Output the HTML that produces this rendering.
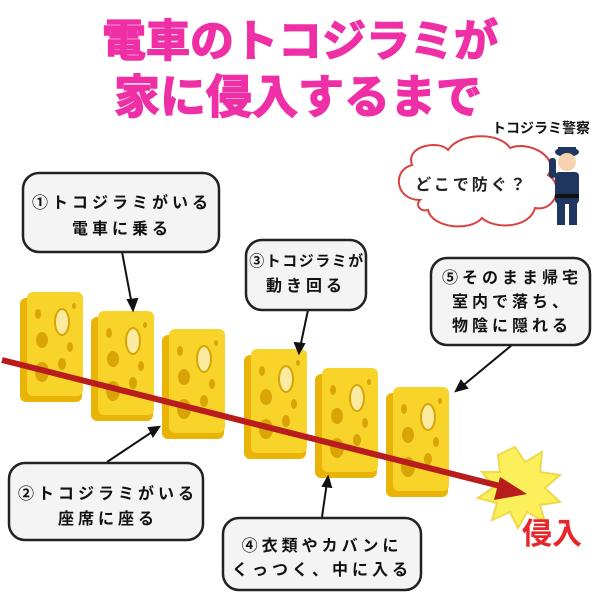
<!DOCTYPE html>
<html><head><meta charset="utf-8"><style>
html,body{margin:0;padding:0;background:#fff;}
svg{display:block;}
text{font-family:"Liberation Sans","Noto Sans CJK JP",sans-serif;font-weight:bold;}
</style></head><body>
<svg width="600" height="600" viewBox="0 0 600 600" xmlns="http://www.w3.org/2000/svg">
<defs>
<g id="card">
  <rect x="0" y="6" width="62" height="104" rx="6" fill="#e9b308"/>
  <rect x="7" y="0" width="56" height="104" rx="6" fill="#f8d42a"/>
  <ellipse cx="18" cy="22" rx="3" ry="5" fill="#d8a406"/>
  <ellipse cx="42" cy="30" rx="7" ry="13" fill="#fbeaa0" stroke="#d8a406" stroke-width="2"/>
  <ellipse cx="22" cy="48" rx="6" ry="8" fill="#d8a406"/>
  <ellipse cx="50" cy="55" rx="3" ry="5" fill="#d8a406"/>
  <ellipse cx="42" cy="72" rx="4" ry="6" fill="#d8a406"/>
  <ellipse cx="22" cy="80" rx="7" ry="10" fill="#d8a406"/>
  <ellipse cx="54" cy="14" rx="2" ry="3" fill="#d8a406"/>
</g>
</defs>
<text x="300" y="56" text-anchor="middle" font-size="44" fill="#ef2fa6" stroke="#ef2fa6" stroke-width="1.5">電車のトコジラミが</text>
<text x="298" y="113" text-anchor="middle" font-size="46" fill="#ef2fa6" stroke="#ef2fa6" stroke-width="1.5">家に侵入するまで</text>

<!-- cloud -->
<path d="M420,200 C395,200 392,170 412,165 C405,145 440,140 448,150 C460,132 500,132 510,148 C530,140 560,158 548,175 C565,185 555,212 535,208 C530,228 495,230 482,218 C470,232 432,228 428,210 C420,212 415,205 420,200 Z" fill="#fff" stroke="#d94040" stroke-width="2"/>
<text x="472" y="190" text-anchor="middle" font-size="16" fill="#222" letter-spacing="3">どこで防ぐ？</text>
<text x="541" y="133" text-anchor="middle" font-size="14" fill="#111">トコジラミ警察</text>
<!-- police -->
<g>
  <ellipse cx="567" cy="152" rx="12" ry="5" fill="#1f3760"/>
  <rect x="558" y="147" width="18" height="6" fill="#1f3760"/>
  <circle cx="567" cy="162" r="9" fill="#f6d2b0"/>
  <rect x="555" y="172" width="24" height="32" rx="4" fill="#1f3760"/>
  <rect x="555" y="194" width="24" height="4" fill="#111"/>
  <rect x="557" y="203" width="8" height="22" fill="#1f3760"/>
  <rect x="569" y="203" width="8" height="22" fill="#1f3760"/>
  <rect x="549" y="158" width="7" height="20" rx="3" fill="#1f3760"/>
</g>

<!-- starburst -->
<polygon points="515,447 525,462 542,452 540,472 560,475 545,488 560,502 540,505 545,522 527,512 518,528 510,512 492,520 497,503 478,498 494,487 482,472 500,472 498,455" fill="#fbef5a" stroke="#efd84a" stroke-width="2"/>

<!-- cards -->
<use href="#card" x="20" y="292"/>
<use href="#card" x="91" y="311"/>
<use href="#card" x="162" y="329"/>
<use href="#card" x="244" y="349"/>
<use href="#card" x="315" y="368"/>
<use href="#card" x="386" y="387"/>

<!-- red arrow -->
<line x1="2" y1="360" x2="508" y2="488" stroke="#b81c1c" stroke-width="6"/>
<polygon points="527,494 500,477 494,500" fill="#b81c1c"/>
<text x="552" y="544" text-anchor="middle" font-size="30" fill="#e8262a">侵入</text>

<!-- connectors -->
<g stroke="#111" stroke-width="2" fill="#111">
  <line x1="122" y1="252" x2="132" y2="305"/><polygon points="133,310 128,300 137,299"/>
  <line x1="308" y1="310" x2="300" y2="348"/><polygon points="299,353 295,343 304,344"/>
  <line x1="512" y1="345" x2="460" y2="388"/><polygon points="456,391 461,381 467,388"/>
  <line x1="107" y1="462" x2="155" y2="430"/><polygon points="159,427 153,436 149,428"/>
  <line x1="322" y1="517" x2="327" y2="482"/><polygon points="328,477 331,487 323,486"/>
</g>

<!-- boxes -->
<g fill="#f4f4f4" stroke="#222" stroke-width="2.5">
  <rect x="23" y="173" width="196" height="79" rx="16"/>
  <rect x="246" y="240" width="120" height="70" rx="16"/>
  <rect x="431" y="258" width="159" height="87" rx="16"/>
  <rect x="9" y="463" width="194" height="77" rx="16"/>
  <rect x="223" y="518" width="198" height="72" rx="16"/>
</g>
<g font-size="16" fill="#111" text-anchor="middle" letter-spacing="4">
  <text x="122" y="208">①トコジラミがいる</text>
  <text x="122" y="234">電車に乗る</text>
  <text x="307" y="266" font-size="15" letter-spacing="1.5">③トコジラミが</text>
  <text x="306" y="291">動き回る</text>
  <text x="512" y="283">⑤そのまま帰宅</text>
  <text x="512" y="307">室内で落ち、</text>
  <text x="512" y="331">物陰に隠れる</text>
  <text x="108" y="499">②トコジラミがいる</text>
  <text x="108" y="524">座席に座る</text>
  <text x="322" y="551">④衣類やカバンに</text>
  <text x="322" y="575">くっつく、中に入る</text>
</g>
</svg>
</body></html>
